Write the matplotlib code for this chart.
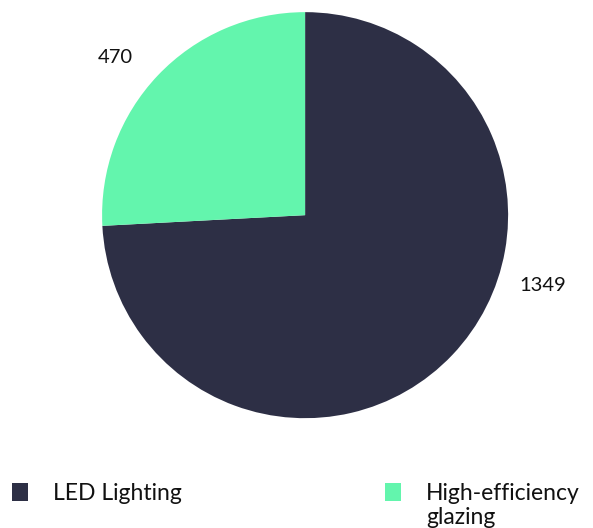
import matplotlib.pyplot as plt
from matplotlib.patches import Rectangle

plt.rcParams['font.family'] = ['Lato', 'DejaVu Sans']

# slice data
categories = ["LED Lighting", "High-efficiency\nglazing"]
values = [1349, 470]
colors = ["#2d2f45", "#63f5ad"]

fig = plt.figure(figsize=(5.93, 5.28), dpi=100)
ax = fig.add_axes([0.172, 0.208, 0.685, 0.769])

wedges, texts = ax.pie(values, colors=colors, startangle=90, counterclock=False,
                       labels=[str(v) for v in values], labeldistance=1.22,
                       textprops={'fontsize': 14.5, 'color': '#111111'})
ax.set_xlim(-1, 1)
ax.set_ylim(-1, 1)
ax.set_aspect('equal')

# label positions around the rim
texts[0].set_position((1.17, -0.345))
texts[1].set_position((-0.936, 0.778))
for t in texts:
    t.set_ha('center')
    t.set_va('center')
    t.set_clip_on(False)

# legend drawn by hand along the bottom
legend_x = [0.020, 0.649]
for x, lab, col in zip(legend_x, categories, colors):
    fig.patches.append(Rectangle((x, 0.052), 0.028, 0.034, transform=fig.transFigure,
                                 facecolor=col, edgecolor='none'))
    fig.text(x + 0.070, 0.085, lab, fontsize=16.5, va='top', ha='left',
             color='#111111', linespacing=1.15)

fig.savefig("out.png", dpi=100)
